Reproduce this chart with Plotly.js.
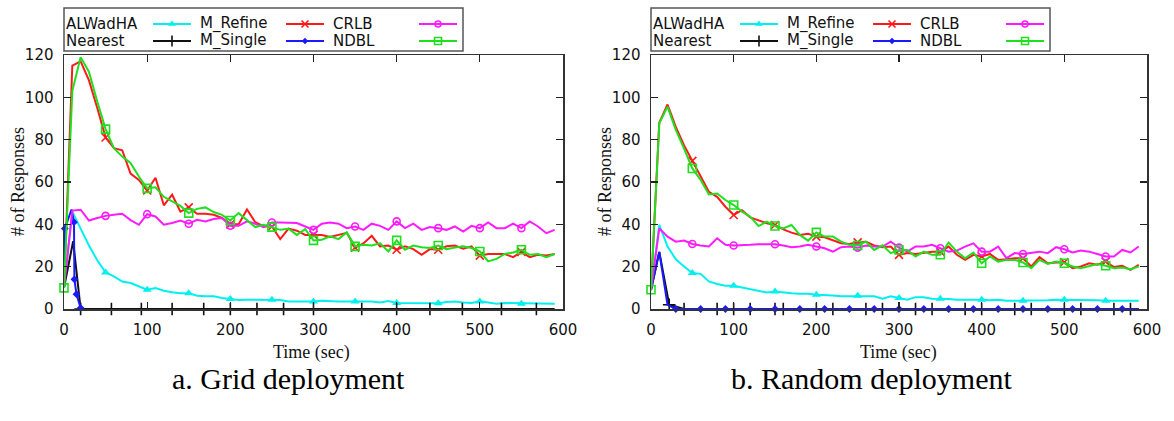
<!DOCTYPE html>
<html>
<head>
<meta charset="utf-8">
<script src="https://cdn.plot.ly/plotly-3.0.1.min.js"></script>
<style>
  html, body { margin: 0; padding: 0; background: #fff; }
  #chart { width: 1174px; height: 421px; }
</style>
</head>
<body>
<div id="chart"></div>
<script>
// ---- Sampling times (sec) for the main series ----
const time = [0,10,20,30,40,50,60,70,80,90,100,110,120,130,140,150,160,170,180,190,
  200,210,220,230,240,250,260,270,280,290,300,310,320,330,340,350,360,370,380,390,
  400,410,420,430,440,450,460,470,480,490,500,510,520,530,540,550,560,570,580,590];

// ---- a. Grid deployment ----
const gridALWadHA = [10,46,38,30,23,17.3,15.4,13,12.3,10.7,9.1,9.9,8.6,7.9,7.5,7.5,6.3,6,6,5.2,
  4.7,4.2,4.4,4.4,4.2,4.4,4.2,3.6,3.5,3.6,3.6,3.9,3.9,3.6,3.5,3.5,3.5,3.5,3.1,3.8,
  2.8,2.8,2.8,2.8,2.8,2.7,3.3,3.5,3.1,2.8,3.6,3.1,2.5,2.8,2.8,2.5,2.7,2.8,2.8,2.5];
const gridMRefine = [10,115,117,108,95,81,76,75,64,61,56,62,49,54,46,48,45,45,44.5,43,
  40,40,47,41,39,39,33,38,37,35,35,35,34,35,36,29,31,34.6,29.6,30,
  28,29.6,28.3,25.6,28.3,28,29.6,30,28.5,29.6,25.2,26,26,26,24.5,27,24.5,25.6,25.3,26];
const gridCRLB = [10,46.5,46.9,41.8,43,44,44.5,45,42,39.8,44.8,43.7,39.8,40.6,41.8,40.3,42.1,41.4,42.5,43,
  39.3,39.3,41.4,40.3,38.7,40.9,40.9,40.6,40.6,39,37.4,40.3,40.9,40.3,38.2,39,37.4,40.3,39.3,37.4,
  41.4,38.2,40.3,37.4,38.7,38.2,37.4,39,36.6,39.3,38.2,40.9,38.2,38.2,40.3,38.2,41.4,39,35.8,37.4];
const gridNDBL = [10,103,119,112,98,85,76,72,69,62.6,57,57.5,53,50.8,48.7,45.3,47.3,48,45.8,44.5,
  41.8,45.3,41.8,38.7,39.8,38.7,37.4,37.9,35,37.7,32.4,32.7,34.3,33,36.2,29.6,30.3,30,31,27.2,
  32.4,28,30,29.2,28.8,30,28.3,29,29.6,28.8,27.2,22.5,23.7,26,26.7,28,25.6,26,24.5,26];
const gridNearestTime = [0,11,20,57,93,130,168,200,232,264,300,358,400,440,479,526,568,590];
const gridNearest     = [10,32,0,0,0,0,0,0,0,0,0,0,0,0,0,0,0,0];
const gridMSingleTime = [0,1,9,12,12.5,15,20];
const gridMSingle     = [10,38,47,41,14,7,0.5];

// ---- b. Random deployment ----
const randALWadHA = [9,39.7,29.5,23.5,20.1,17,16.6,13,11.8,11,11,10.2,9.4,8.8,7.8,8.3,7.8,7.5,7.2,7.2,
  6.7,6.7,6.4,6,6,6.3,6,6,4.9,6,5.2,4.4,5.6,5.6,4.9,4.9,4.7,4.4,4.4,4.7,
  4.4,4.1,4.4,3.9,3.9,3.9,3.9,4.1,4.1,4.4,4.4,4.1,4.4,4.1,4.1,3.9,3.9,3.9,3.9,3.9];
const randMRefine = [9,88,96.6,86,77.3,70,62.4,55.4,53,48.3,44.4,46.7,43.3,42,40.5,39.7,37.6,36.1,35,35.5,
  34.2,33.9,32.6,31.1,30.7,31.5,31.8,30,29.2,29.5,25.6,26.4,26,26.4,27.1,27.1,29.5,25.6,23.2,25.6,
  24.8,26,23.2,23.5,24,24,20.1,24.5,21.6,22,22.1,19.3,20.1,21.6,20.9,22.4,19.8,20.4,18.5,20.9];
const randCRLB = [9,38.1,34.2,31.8,32.3,30.7,30,29.5,33.4,30.3,30,30,30.3,30.6,30.6,30.6,30,29.2,29.5,30.3,
  29.5,28.7,27.1,29.2,29.5,29,30,29.5,29.5,31.8,29,27.1,29.5,29.5,30.3,28.7,27.1,27.6,29.5,31,
  27.1,27.1,29.5,24,26.4,26,26.4,27.1,26.4,29.2,28.2,26.7,27.6,27.1,26,24.8,24.8,27.9,26.7,29.5];
const randNDBL = [9.1,87.7,95.6,84.6,75.8,66.4,61,54.1,54.6,51.5,49.1,46,43.6,39.2,41.3,39.2,38.1,39.7,35,32.3,
  36.2,34.2,34.2,31.8,30.3,30,31.8,27.9,30.1,26.4,27.9,27.9,24.8,27.1,25.6,25.6,31.4,27.1,24,26.7,
  21.6,24.8,22.4,23.2,23.2,22,19.3,23.2,21.3,22.4,21.6,20.1,19.3,20.4,21.3,20.4,19.3,19.6,18.8,20.1];
const randNearestTime = [0,10,22,40,80,100,120,150,160,200,220,260,280,320,340,380,400,440,460,500,520,560,580,590];
const randNearest     = [9,27,2,0,0,0,0,0,0,0,0,0,0,0,0,0,0,0,0,0,0,0,0,0];
const randMSingleTime = [0,10,20,30,60,90,120,150,180,210,240,270,300,330,360,390,420,450,480,510,540,570,590];
const randMSingle     = [9,27,2,0,0,0,0,0,0,0,0,0,0,0,0,0,0,0,0,0,0,0,0];

// ---- Appearance ----
const W = 1174, H = 421;
const STYLE = {
  'ALWadHA':  { color: '#00f0f0', symbol: 'triangle-up',     size: 8, open: false },
  'Nearest':  { color: '#111111', symbol: 'cross-thin-open', size: 9, open: true  },
  'M_Refine': { color: '#ff1a1a', symbol: 'x-thin-open',     size: 8, open: true  },
  'M_Single': { color: '#1a1aff', symbol: 'diamond',         size: 6, open: false },
  'CRLB':     { color: '#ff1aff', symbol: 'circle-open',     size: 7, open: true  },
  'NDBL':     { color: '#1ee01e', symbol: 'square-open',     size: 8, open: true  }
};

function markerOf(s) {
  return s.open
    ? { symbol: s.symbol, size: s.size, color: s.color, line: { color: s.color, width: 1.6 } }
    : { symbol: s.symbol, size: s.size, color: s.color, line: { width: 0 } };
}

const traces = [];
function addSeries(xa, ya, t, v, name, pick) {
  const s = STYLE[name];
  traces.push({ type: 'scatter', mode: 'lines', x: t, y: v, xaxis: xa, yaxis: ya,
    line: { color: s.color, width: 2 }, hoverinfo: 'skip', showlegend: false });
  const mx = [], my = [];
  t.forEach((tt, i) => { if (pick(tt, i)) { mx.push(tt); my.push(v[i]); } });
  traces.push({ type: 'scatter', mode: 'markers', x: mx, y: my, xaxis: xa, yaxis: ya,
    marker: markerOf(s), cliponaxis: false, hoverinfo: 'skip', showlegend: false });
}

const every50 = t => t > 0 && t % 50 === 0;
const every50from0 = t => t % 50 === 0;

function panel(xa, ya, d) {
  addSeries(xa, ya, time, d.alwadha, 'ALWadHA', every50);
  addSeries(xa, ya, d.nearestT, d.nearest, 'Nearest', (t, i) => i >= 2 && i < d.nearestT.length - 1);
  addSeries(xa, ya, time, d.refine, 'M_Refine', every50);
  addSeries(xa, ya, d.singleT, d.single, 'M_Single', d.singlePick);
  addSeries(xa, ya, time, d.crlb, 'CRLB', every50);
  addSeries(xa, ya, time, d.ndbl, 'NDBL', every50from0);
}

panel('x', 'y', {
  alwadha: gridALWadHA, refine: gridMRefine, crlb: gridCRLB, ndbl: gridNDBL,
  nearestT: gridNearestTime, nearest: gridNearest,
  singleT: gridMSingleTime, single: gridMSingle,
  singlePick: (t, i) => i !== 0 && i !== 2
});
panel('x2', 'y2', {
  alwadha: randALWadHA, refine: randMRefine, crlb: randCRLB, ndbl: randNDBL,
  nearestT: randNearestTime, nearest: randNearest,
  singleT: randMSingleTime, single: randMSingle,
  singlePick: (t, i) => i >= 3 && i < randMSingleTime.length - 1
});

// ---- Key boxes (text followed by a line sample), laid out in pixels on x3/y3 ----
const KEY = [
  { name: 'ALWadHA',  col: 0, row: 0 }, { name: 'Nearest',  col: 0, row: 1 },
  { name: 'M_Refine', col: 1, row: 0 }, { name: 'M_Single', col: 1, row: 1 },
  { name: 'CRLB',     col: 2, row: 0 }, { name: 'NDBL',     col: 2, row: 1 }
];
const keyLeft = [64, 651];
const rowY = [24, 41];
const colText = [0, 134, 267];
const colSample = [[89, 127], [222, 260], [355, 393]];

const annotations = [];
const shapes = [];
keyLeft.forEach(L => {
  shapes.push({ type: 'rect', xref: 'paper', yref: 'paper',
    x0: L / W, x1: (L + 399) / W, y0: 1 - 51 / H, y1: 1 - 8 / H,
    line: { color: '#555', width: 1.5 }, fillcolor: 'rgba(0,0,0,0)' });
  KEY.forEach(k => {
    const s = STYLE[k.name];
    const y = rowY[k.row];
    annotations.push({ xref: 'paper', yref: 'paper', x: (L + colText[k.col]) / W, y: 1 - y / H,
      xanchor: 'left', yanchor: 'middle', showarrow: false, text: k.name,
      font: { family: 'DejaVu Sans', size: 15, color: '#111' } });
    const [a, b] = colSample[k.col];
    traces.push({ type: 'scatter', mode: 'lines', x: [L + a, L + b], y: [y, y],
      xaxis: 'x3', yaxis: 'y3', line: { color: s.color, width: 2 },
      hoverinfo: 'skip', showlegend: false });
    traces.push({ type: 'scatter', mode: 'markers', x: [L + (a + b) / 2], y: [y],
      xaxis: 'x3', yaxis: 'y3', marker: Object.assign(markerOf(s), { size: s.size - 1 }),
      cliponaxis: false, hoverinfo: 'skip', showlegend: false });
  });
});

// ---- Axis titles and panel captions ----
const serif = 'Liberation Serif, Times New Roman, serif';
[[311, 18], [898, 605]].forEach(([cx, yx]) => {
  annotations.push({ xref: 'paper', yref: 'paper', x: cx / W, y: 1 - 352 / H,
    xanchor: 'center', yanchor: 'middle', showarrow: false, text: 'Time (sec)',
    font: { family: serif, size: 18, color: '#111' } });
  annotations.push({ xref: 'paper', yref: 'paper', x: yx / W, y: 1 - 182 / H,
    xanchor: 'center', yanchor: 'middle', showarrow: false, text: '# of Responses',
    textangle: -90, font: { family: serif, size: 18, color: '#111' } });
});
annotations.push({ xref: 'paper', yref: 'paper', x: 288 / W, y: 1 - 378 / H,
  xanchor: 'center', yanchor: 'middle', showarrow: false, text: 'a. Grid deployment',
  font: { family: serif, size: 30, color: '#000' } });
annotations.push({ xref: 'paper', yref: 'paper', x: 871 / W, y: 1 - 378 / H,
  xanchor: 'center', yanchor: 'middle', showarrow: false, text: 'b. Random deployment',
  font: { family: serif, size: 30, color: '#000' } });

function xAxis(l, r, anchor) {
  return { domain: [l / W, r / W], range: [0, 600], dtick: 100, tick0: 0, anchor: anchor,
    showgrid: false, zeroline: false, showline: true, mirror: 'ticks', linecolor: '#333',
    linewidth: 1.5, ticks: 'inside', ticklen: 7, tickcolor: '#222', tickwidth: 1.2,
    ticklabelstandoff: 6, tickfont: { family: 'DejaVu Sans', size: 15, color: '#111' },
    fixedrange: true };
}
function yAxis(anchor) {
  return { domain: [1 - 309 / H, 1 - 55 / H], range: [0, 120], dtick: 20, tick0: 0, anchor: anchor,
    showgrid: false, zeroline: false, showline: true, mirror: 'ticks', linecolor: '#333',
    linewidth: 1.5, ticks: 'inside', ticklen: 7, tickcolor: '#222', tickwidth: 1.2,
    ticklabelstandoff: 6, tickfont: { family: 'DejaVu Sans', size: 15, color: '#111' },
    fixedrange: true };
}

const layout = {
  width: W, height: H,
  margin: { l: 0, r: 0, t: 0, b: 0 },
  paper_bgcolor: '#ffffff', plot_bgcolor: 'rgba(0,0,0,0)',
  showlegend: false,
  xaxis: xAxis(64, 563, 'y'),
  yaxis: yAxis('x'),
  xaxis2: xAxis(651, 1147, 'y2'),
  yaxis2: yAxis('x2'),
  xaxis3: { domain: [0, 1], range: [0, W], visible: false, anchor: 'y3', fixedrange: true },
  yaxis3: { domain: [0, 1], range: [H, 0], visible: false, anchor: 'x3', fixedrange: true },
  shapes: shapes,
  annotations: annotations
};

Plotly.newPlot('chart', traces, layout, { staticPlot: true, displayModeBar: false });
</script>
</body>
</html>
